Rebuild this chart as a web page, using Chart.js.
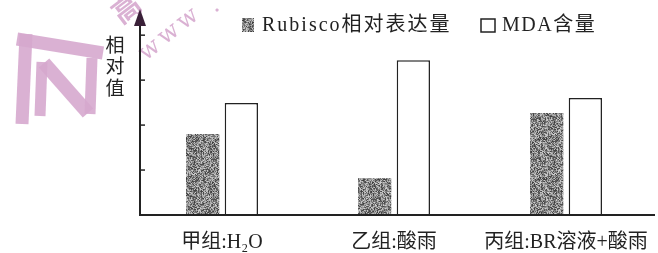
<!DOCTYPE html>
<html>
<head>
<meta charset="utf-8">
<style>
  html, body { margin: 0; padding: 0; background: #fff; }
  #wrap { width: 658px; height: 253px; position: relative; }
</style>
<script src="https://cdn.jsdelivr.net/npm/chart.js@4/dist/chart.umd.min.js"></script>
</head>
<body>
<div id="wrap"><canvas id="c" width="658" height="253"></canvas></div>
<script>
const categories = ['甲组:H₂O', '乙组:酸雨', '丙组:BR溶液+酸雨'];
const rubisco = [1.8, 0.82, 2.27];
const mda = [2.49, 3.44, 2.6];
const yTicks = [1, 2, 3, 4];
const seriesNames = ['Rubisco相对表达量', 'MDA含量'];
const yTitle = ['相', '对', '值'];

const FONT = '"Liberation Serif", "Noto Sans CJK SC", serif';
const AXIS_X = 140;
const PINK = 'rgba(214,168,206,0.9)';

// speckled grey texture for the Rubisco bars
function makeTexture() {
    const p = document.createElement('canvas');
    p.width = 40; p.height = 40;
    const g = p.getContext('2d');
    let s = 12345;
    const rnd = () => { s = (s * 1103515245 + 12345) % 2147483648; return s / 2147483648; };
    for (let y = 0; y < 40; y++) {
        for (let x = 0; x < 40; x++) {
            const v = Math.floor(60 + rnd() * 150);
            g.fillStyle = `rgb(${v},${v},${v})`;
            g.fillRect(x, y, 1, 1);
        }
    }
    return g.createPattern(p, 'repeat');
}
const texture = makeTexture();

// pink watermark behind the chart
const watermark = {
    id: 'watermark',
    beforeDraw(chart) {
        const ctx = chart.ctx;
        ctx.save();
        ctx.strokeStyle = PINK;
        ctx.lineCap = 'butt';
        const seg = (a, b, c, d, w) => {
            ctx.lineWidth = w;
            ctx.beginPath(); ctx.moveTo(a, b); ctx.lineTo(c, d); ctx.stroke();
        };
        seg(17, 39, 103, 53, 13);
        seg(26, 34, 22, 124, 13);
        seg(42, 62, 40, 116, 11);
        seg(44, 63, 88, 113, 14);
        seg(92, 58, 90, 114, 11);
        ctx.fillStyle = PINK;
        ctx.font = '24px "DejaVu Serif", serif';
        ctx.textAlign = 'center';
        ctx.textBaseline = 'middle';
        [[150, 50], [169, 34], [188, 19], [214, 6]].forEach((p, i) => {
            ctx.save();
            ctx.translate(p[0], p[1]);
            ctx.rotate(-0.65);
            ctx.fillText(i < 3 ? 'w' : '.', 0, 0);
            ctx.restore();
        });
        ctx.font = 'bold 28px "Noto Sans CJK SC", sans-serif';
        ctx.save();
        ctx.translate(126, 8);
        ctx.rotate(-0.65);
        ctx.fillText('高', 0, 0);
        ctx.restore();
        ctx.restore();
    }
};

const decor = {
    id: 'decor',
    afterDraw(chart) {
        const ctx = chart.ctx;
        const y = chart.scales.y;
        const area = chart.chartArea;
        ctx.save();
        ctx.strokeStyle = '#222';
        // x axis line
        ctx.lineWidth = 2;
        ctx.beginPath();
        ctx.moveTo(AXIS_X - 1, area.bottom);
        ctx.lineTo(655, area.bottom);
        ctx.stroke();
        // y axis line + arrow
        ctx.beginPath();
        ctx.moveTo(AXIS_X, area.bottom);
        ctx.lineTo(AXIS_X, 22);
        ctx.stroke();
        ctx.fillStyle = '#3a2038';
        ctx.beginPath();
        ctx.moveTo(AXIS_X, 9);
        ctx.lineTo(AXIS_X - 6, 26);
        ctx.lineTo(AXIS_X + 6, 26);
        ctx.closePath();
        ctx.fill();
        // inner ticks
        ctx.lineWidth = 1.5;
        yTicks.forEach(t => {
            const py = y.getPixelForValue(t);
            ctx.beginPath();
            ctx.moveTo(AXIS_X, py);
            ctx.lineTo(AXIS_X + 5, py);
            ctx.stroke();
        });
        // y title
        ctx.fillStyle = '#222';
        ctx.font = '19px ' + FONT;
        ctx.textAlign = 'center';
        ctx.textBaseline = 'middle';
        yTitle.forEach((ch, i) => ctx.fillText(ch, 115, 47 + i * 21.5));
        // legend
        ctx.fillStyle = texture;
        ctx.fillRect(242, 18, 12, 14);
        ctx.fillStyle = '#222';
        ctx.font = '20px ' + FONT;
        ctx.textAlign = 'left';
        ctx.letterSpacing = '2px';
        ctx.fillText(seriesNames[0], 262, 26);
        ctx.letterSpacing = '1.5px';
        ctx.fillText(seriesNames[1], 502, 26);
        ctx.lineWidth = 1.5;
        ctx.strokeRect(481, 19, 14, 13);
        ctx.restore();
    }
};

new Chart(document.getElementById('c'), {
    type: 'bar',
    data: {
        labels: categories,
        datasets: [
            { label: seriesNames[0], data: rubisco, backgroundColor: texture, borderWidth: 0 },
            { label: seriesNames[1], data: mda, backgroundColor: '#fff', borderColor: '#222', borderWidth: 1.5 }
        ]
    },
    options: {
        responsive: false,
        animation: false,
        layout: { padding: { top: 10, right: 6, left: 0, bottom: 0 } },
        plugins: { legend: { display: false }, tooltip: { enabled: false } },
        datasets: { bar: { categoryPercentage: 0.45, barPercentage: 0.86 } },
        scales: {
            x: {
                grid: { display: false },
                border: { display: false },
                ticks: { color: '#222', font: { family: FONT, size: 20 }, padding: 8, maxRotation: 0 },
                afterFit(s) { s.height = 38; }
            },
            y: {
                min: 0,
                max: 4.56,
                grid: { display: false },
                border: { display: false },
                ticks: { display: false, stepSize: 1 },
                afterFit(s) { s.width = 136; }
            }
        }
    },
    plugins: [watermark, decor]
});
</script>
</body>
</html>
